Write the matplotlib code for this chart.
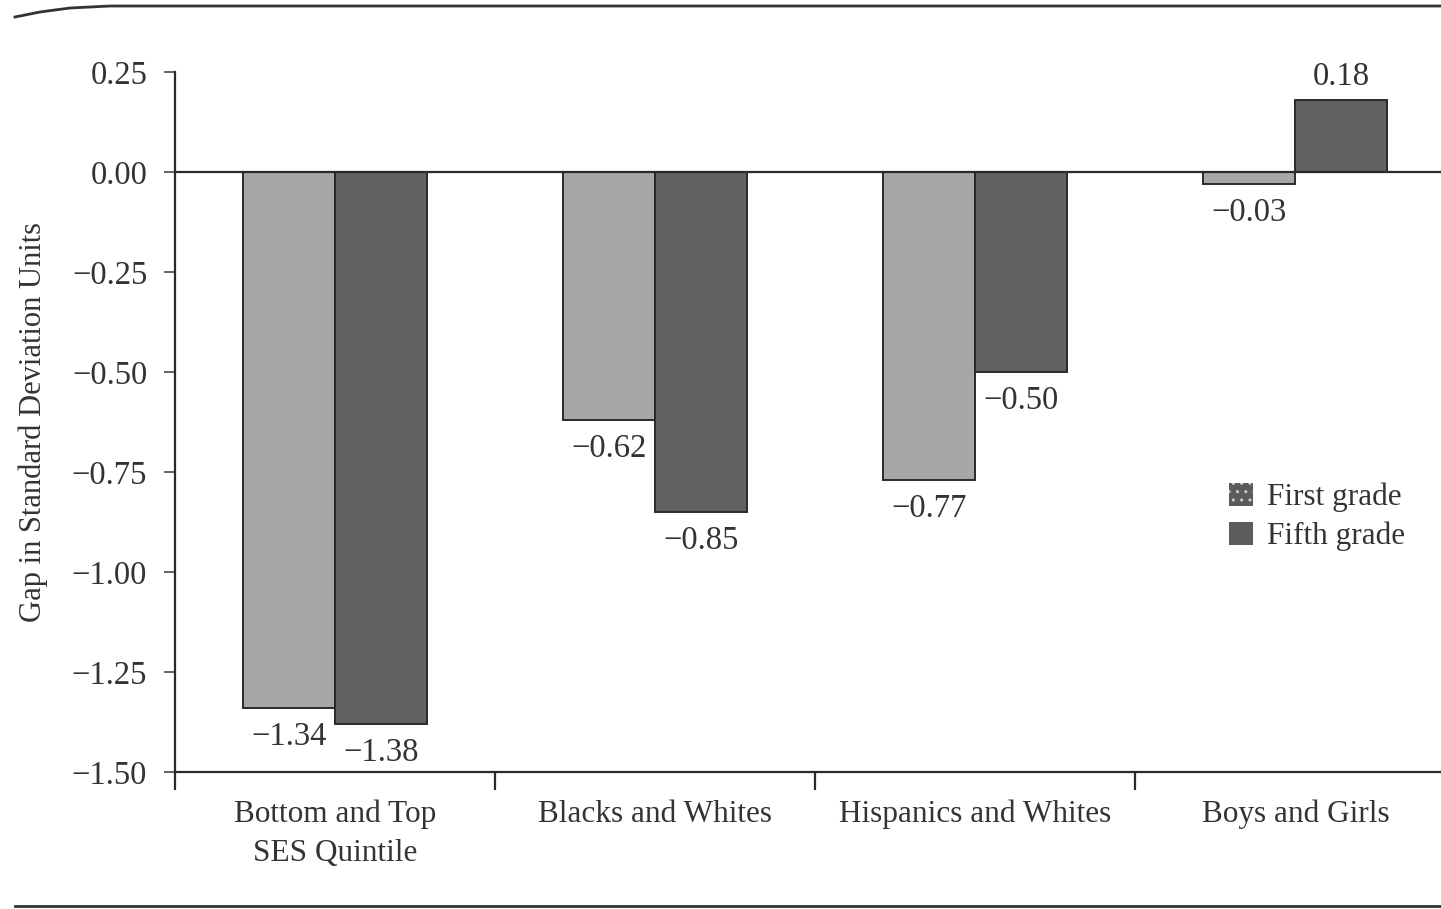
import matplotlib
matplotlib.use('Agg')
import matplotlib.pyplot as plt
from matplotlib.lines import Line2D
from matplotlib.patches import Patch
import numpy as np

# data
categories = ['Bottom and Top\nSES Quintile', 'Blacks and Whites',
              'Hispanics and Whites', 'Boys and Girls']
first_grade = [-1.34, -0.62, -0.77, -0.03]
fifth_grade = [-1.38, -0.85, -0.50, 0.18]
series_names = ['First grade', 'Fifth grade']
yticks = [0.25, 0.00, -0.25, -0.50, -0.75, -1.00, -1.25, -1.50]

plt.rcParams['font.family'] = ['Liberation Serif', 'DejaVu Serif']
txt = '#333333'
light = '#a7a7a7'
dark = '#616161'
edge = '#2a2a2a'
num_fs = 23.5
word_fs = 22.5

W, H = 1441, 909
fig = plt.figure(figsize=(W / 100, H / 100), dpi=100)
ax = fig.add_axes([175 / W, 1 - 772 / H, 1266 / W, 700 / H])

x = np.arange(len(categories))
bw = 0.287
b1 = ax.bar(x, first_grade, width=-bw, align='edge', color=light,
            edgecolor=edge, linewidth=1.4, zorder=2)
b2 = ax.bar(x, fifth_grade, width=bw, align='edge', color=dark,
            edgecolor=edge, linewidth=1.4, zorder=2)

ax.axhline(0, color='#2a2a2a', lw=1.6, zorder=3)

def fmt(v):
    s = f'{abs(v):.2f}'
    return ('\u2212' + s) if v < 0 else s

for bars, vals in ((b1, first_grade), (b2, fifth_grade)):
    for r, v in zip(bars, vals):
        cx = r.get_x() + r.get_width() / 2
        off = 16.5 if v > 0 else -21
        ax.annotate(fmt(v), xy=(cx, v), xytext=(0, off),
                    textcoords='offset points', ha='center', va='center',
                    fontsize=num_fs, color=txt)

ax.set_xlim(-0.5, 3.455)
ax.set_ylim(-1.5, 0.25)
ax.set_yticks(yticks)
ax.set_yticklabels([fmt(t) for t in yticks], fontsize=num_fs, color=txt)
ax.tick_params(axis='y', direction='out', length=8, width=1.3,
               color='#555555', pad=12)

# boundaries get tick marks, category names sit on minor ticks
ax.set_xticks([-0.5, 0.5, 1.5, 2.5])
ax.set_xticklabels([])
ax.set_xticks(x, minor=True)
ax.set_xticklabels(categories, minor=True, fontsize=word_fs, color=txt,
                   linespacing=1.42)
ax.tick_params(axis='x', which='major', direction='out', length=13,
               width=1.6, color='#2a2a2a')
ax.tick_params(axis='x', which='minor', length=0, pad=20)

for s in ('top', 'right'):
    ax.spines[s].set_visible(False)
for s in ('left', 'bottom'):
    ax.spines[s].set_color('#2a2a2a')
    ax.spines[s].set_linewidth(1.6)

ax.set_ylabel('Gap in Standard Deviation Units', fontsize=22, color=txt)
ax.yaxis.set_label_coords(-0.1, 0.5)

handles = [Patch(facecolor='#5c5c5c', edgecolor='#cfcfcf', hatch='..', lw=0),
           Patch(facecolor='#5c5c5c', edgecolor='#5c5c5c', lw=0)]
leg = ax.legend(handles, series_names, loc='center left',
                bbox_to_anchor=(1229 / W, 1 - 517 / H),
                bbox_transform=fig.transFigure, frameon=False,
                fontsize=word_fs, handlelength=0.78, handleheight=0.78,
                handletextpad=0.45, labelspacing=0.3, borderpad=0,
                borderaxespad=0)
for t in leg.get_texts():
    t.set_color(txt)

# page rules above and below the chart
tr = fig.transFigure
top_x = [15, 40, 70, 110, W]
top_y = [17, 12, 8, 6, 6]
fig.add_artist(Line2D([v / W for v in top_x], [1 - v / H for v in top_y],
                      transform=tr, color='#333333', lw=2))
fig.add_artist(Line2D([15 / W, 1], [1 - 906 / H, 1 - 906 / H],
                      transform=tr, color='#333333', lw=2))

fig.savefig('out.png', dpi=100, facecolor='white')
